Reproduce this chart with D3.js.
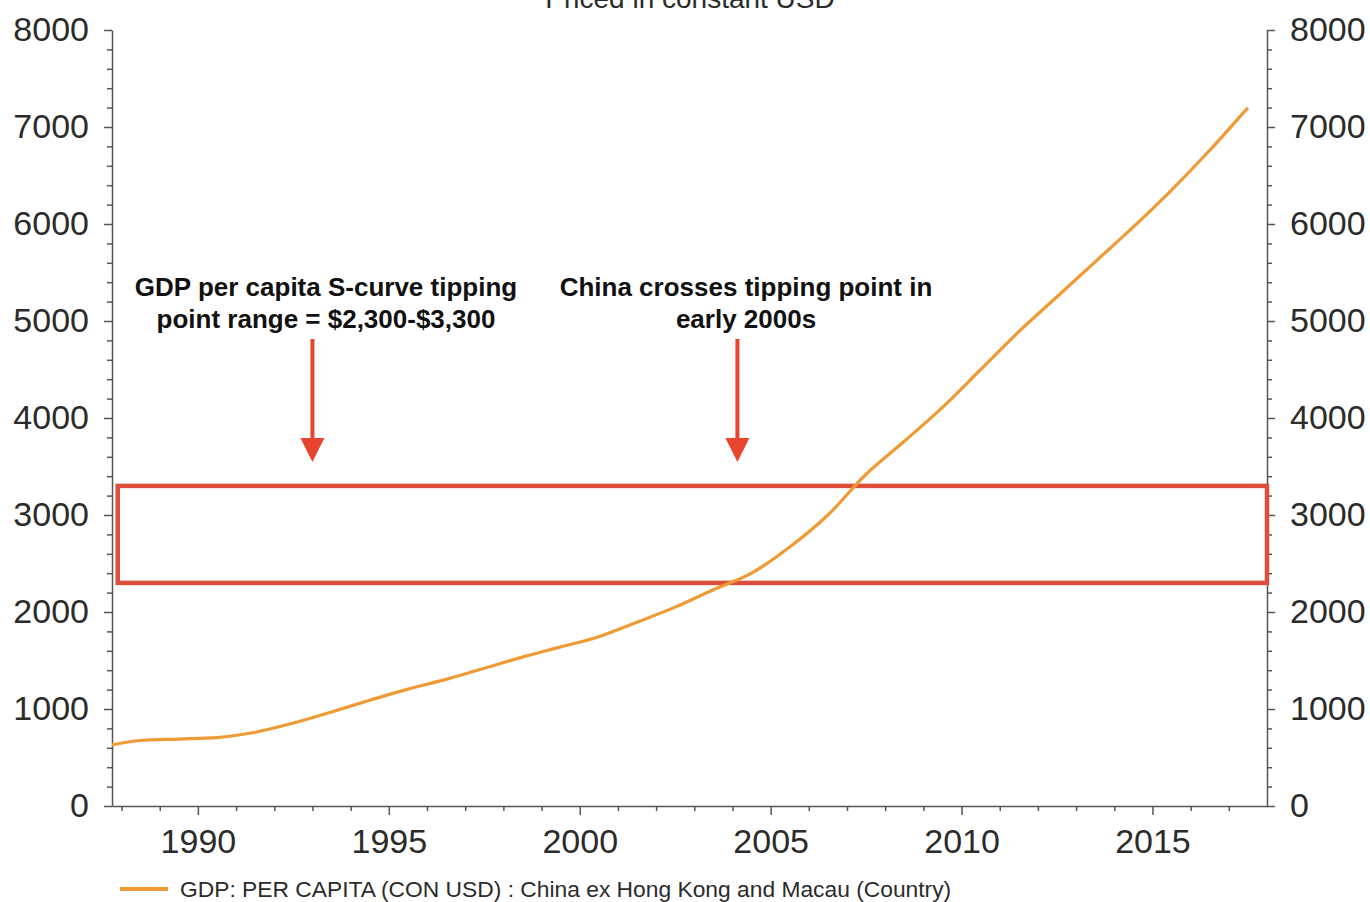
<!DOCTYPE html>
<html>
<head>
<meta charset="utf-8">
<script src="https://cdn.jsdelivr.net/npm/d3@7"></script>
<style>
  html, body { margin: 0; padding: 0; background: #fff; }
  svg { display: block; font-family: "Liberation Sans", Arial, Helvetica, sans-serif; }
</style>
</head>
<body>
<svg id="chart" width="1370" height="902"></svg>
<script>
// GDP per capita, China ex Hong Kong and Macau, constant USD (annual)
const years = [1987, 1988, 1989, 1990, 1991, 1992, 1993, 1994, 1995, 1996,
               1997, 1998, 1999, 2000, 2001, 2002, 2003, 2004, 2005, 2006,
               2007, 2008, 2009, 2010, 2011, 2012, 2013, 2014, 2015, 2016, 2017];
const gdpPerCapita = [610, 675, 690, 705, 760, 855, 970, 1090, 1205, 1305,
                      1420, 1535, 1640, 1745, 1895, 2050, 2230, 2400, 2670, 3000,
                      3420, 3760, 4110, 4500, 4890, 5250, 5610, 5970, 6350, 6760, 7200];

// Axis ticks
const yMajorTicks = [0, 1000, 2000, 3000, 4000, 5000, 6000, 7000, 8000];
const xMajorTicks = [1990, 1995, 2000, 2005, 2010, 2015];
const xDomain = [1987.75, 2018];
const yDomain = [0, 8000];

// Tipping-point band and annotations
const tippingRange = [2300, 3300];
const annotations = [
  { lines: ["GDP per capita S-curve tipping", "point range = $2,300-$3,300"], year: 1993.0, textX: 326 },
  { lines: ["China crosses tipping point in", "early 2000s"], year: 2004.13, textX: 746 }
];
const titleText = "Priced in constant USD";
const legendText = "GDP: PER CAPITA (CON USD) : China ex Hong Kong and Macau (Country)";

const lineColor = "#ee9b35";
const boxColor = "#db4f3c";
const arrowColor = "#e8452e";
const axisColor = "#555";
const textColor = "#2b2b2b";

const svg = d3.select("#chart");
const margin = { left: 112, right: 103, top: 30, bottom: 96 };
const width = 1370, height = 902;
const x0 = margin.left, x1 = width - margin.right;
const y0 = height - margin.bottom, y1 = margin.top;

const x = d3.scaleLinear().domain(xDomain).range([x0, x1]);
const y = d3.scaleLinear().domain(yDomain).range([y0, y1]);

// Title (partly above the top edge)
svg.append("text")
  .attr("x", 690).attr("y", 8)
  .attr("text-anchor", "middle")
  .attr("font-size", 28)
  .attr("fill", textColor)
  .text(titleText);

// Y axes: majors every 1000, minors every 200
const yMinor = d3.range(0, 8001, 200).filter(v => v % 1000 !== 0);

function yAxisGroup(side) {
  const g = svg.append("g")
    .attr("transform", `translate(${side === "left" ? x0 : x1},0)`);
  const axisFn = side === "left" ? d3.axisLeft : d3.axisRight;
  g.call(axisFn(y).tickValues(yMinor).tickSize(5).tickFormat(""))
    .call(s => s.select(".domain").remove());
  const gm = svg.append("g")
    .attr("transform", `translate(${side === "left" ? x0 : x1},0)`)
    .call(axisFn(y).tickValues(yMajorTicks).tickSize(8).tickPadding(15).tickSizeOuter(0)
      .tickFormat(d3.format("d")));
  [g, gm].forEach(s => {
    s.selectAll("line").attr("stroke", axisColor).attr("stroke-width", 1.5);
    s.selectAll("path").attr("stroke", axisColor).attr("stroke-width", 1.5);
  });
  gm.selectAll("text")
    .attr("font-size", 34)
    .attr("fill", textColor)
    .attr("font-family", "Liberation Sans, Arial, sans-serif");
}
yAxisGroup("left");
yAxisGroup("right");

// X axis: majors every 5 years, minors every year
const xMinor = d3.range(1988, 2018).filter(v => v % 5 !== 0);
const gxMinor = svg.append("g").attr("transform", `translate(0,${y0})`)
  .call(d3.axisBottom(x).tickValues(xMinor).tickSize(5).tickFormat(""));
gxMinor.select(".domain").remove();
const gx = svg.append("g").attr("transform", `translate(0,${y0})`)
  .call(d3.axisBottom(x).tickValues(xMajorTicks).tickSize(9).tickPadding(14)
    .tickSizeOuter(0).tickFormat(d3.format("d")));
[gxMinor, gx].forEach(s => {
  s.selectAll("line").attr("stroke", axisColor).attr("stroke-width", 1.5);
  s.selectAll("path").attr("stroke", axisColor).attr("stroke-width", 1.5);
});
gx.selectAll("text").attr("font-size", 34).attr("fill", textColor)
  .attr("font-family", "Liberation Sans, Arial, sans-serif");

// Clip for the series
svg.append("clipPath").attr("id", "plot-clip")
  .append("rect").attr("x", x0).attr("y", y1 - 5)
  .attr("width", x1 - x0).attr("height", y0 - y1 + 5);

// Tipping-point range box
svg.append("rect")
  .attr("x", x(1987.9))
  .attr("y", y(tippingRange[1]))
  .attr("width", x(2018) - x(1987.9))
  .attr("height", y(tippingRange[0]) - y(tippingRange[1]))
  .attr("fill", "none")
  .attr("stroke", boxColor)
  .attr("stroke-width", 4.5);

// GDP line, annual values at mid-year
const series = years.map((yr, i) => ({ t: yr + 0.5, v: gdpPerCapita[i] }));
const line = d3.line().x(d => x(d.t)).y(d => y(d.v)).curve(d3.curveMonotoneX);
svg.append("path")
  .datum(series)
  .attr("clip-path", "url(#plot-clip)")
  .attr("d", line)
  .attr("fill", "none")
  .attr("stroke", lineColor)
  .attr("stroke-width", 3.2)
  .attr("stroke-linejoin", "round");

// Annotations with downward arrows
annotations.forEach(a => {
  const cx = x(a.year);
  const t = svg.append("text")
    .attr("text-anchor", "middle")
    .attr("font-size", 26)
    .attr("font-weight", "bold")
    .attr("fill", "#111");
  a.lines.forEach((ln, i) => {
    t.append("tspan").attr("x", a.textX).attr("y", 296 + i * 32).text(ln);
  });
  const tipY = 462;
  svg.append("line")
    .attr("x1", cx).attr("x2", cx)
    .attr("y1", 339).attr("y2", tipY - 20)
    .attr("stroke", arrowColor).attr("stroke-width", 4);
  svg.append("path")
    .attr("d", `M${cx - 12},${tipY - 24} L${cx + 12},${tipY - 24} L${cx},${tipY} Z`)
    .attr("fill", arrowColor);
});

// Legend
svg.append("line")
  .attr("x1", 120).attr("x2", 168)
  .attr("y1", 889).attr("y2", 889)
  .attr("stroke", lineColor).attr("stroke-width", 4);
svg.append("text")
  .attr("x", 180).attr("y", 897)
  .attr("font-size", 22.8)
  .attr("fill", textColor)
  .text(legendText);
</script>
</body>
</html>
